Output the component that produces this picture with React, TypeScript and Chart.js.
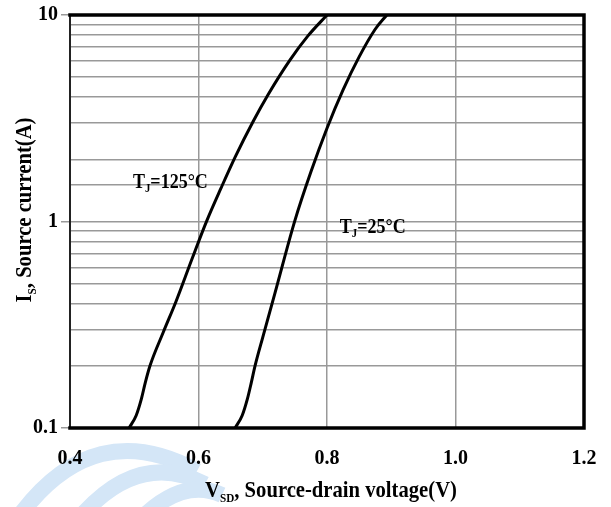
import React, { useEffect, useRef } from "react";
import { Chart, registerables } from "chart.js";

Chart.register(...registerables);

// Source-drain diode forward characteristics
const vsd125: number[] = [0.492, 0.503, 0.511, 0.517, 0.5245, 0.545, 0.565, 0.59, 0.613, 0.635, 0.657, 0.685, 0.708, 0.742, 0.77, 0.8];
const is125: number[] = [0.1, 0.115, 0.138, 0.165, 0.2, 0.29, 0.41, 0.66, 1.01, 1.45, 2.05, 3.05, 4.1, 6.03, 7.9, 10];

const vsd25: number[] = [0.657, 0.668, 0.676, 0.682, 0.688, 0.7, 0.719, 0.75, 0.775, 0.8, 0.825, 0.85, 0.875, 0.893];
const is25: number[] = [0.1, 0.115, 0.138, 0.165, 0.2, 0.275, 0.45, 1.01, 1.74, 2.83, 4.34, 6.27, 8.53, 10];

const xTickValues: number[] = [0.4, 0.6, 0.8, 1.0, 1.2];
const yTickLabels: number[] = [0.1, 1, 10];

// annotation anchors (data coords): [V, I]
const label125: number[] = [0.498, 1.46];
const label25: number[] = [0.82, 0.875];

const FONT = '"Liberation Serif", "DejaVu Serif", serif';

type Part = { t: string; sub?: boolean };

function drawRich(
  ctx: CanvasRenderingContext2D,
  parts: Part[],
  x: number,
  y: number,
  size: number,
  subSize: number,
  align: "left" | "center",
  sx: number
) {
  let total = 0;
  const widths: number[] = [];
  for (const p of parts) {
    ctx.font = `bold ${p.sub ? subSize : size}px ${FONT}`;
    const w = ctx.measureText(p.t).width;
    widths.push(w);
    total += w;
  }
  ctx.save();
  ctx.translate(x, y);
  ctx.scale(sx, 1);
  let cx = align === "center" ? -total / 2 : 0;
  ctx.textAlign = "left";
  ctx.textBaseline = "alphabetic";
  parts.forEach((p, i) => {
    ctx.font = `bold ${p.sub ? subSize : size}px ${FONT}`;
    ctx.fillText(p.t, cx, p.sub ? size * 0.2 : 0);
    cx += widths[i];
  });
  ctx.restore();
}

const isPow10 = (v: number) => Math.abs(Math.log10(v) - Math.round(Math.log10(v))) < 1e-6;

export default function App() {
  const ref = useRef<HTMLCanvasElement | null>(null);

  useEffect(() => {
    document.body.style.margin = "0";
    const canvas = ref.current;
    if (!canvas) return;

    const watermark = {
      id: "watermark",
      beforeDraw(chart: any) {
        const ctx = chart.ctx as CanvasRenderingContext2D;
        ctx.save();
        ctx.strokeStyle = "#d4e6f7";
        ctx.lineCap = "butt";
        ctx.lineWidth = 16;
        ctx.beginPath();
        ctx.moveTo(20, 515);
        ctx.quadraticCurveTo(95, 415, 197, 471);
        ctx.stroke();
        ctx.beginPath();
        ctx.moveTo(82, 515);
        ctx.quadraticCurveTo(140, 450, 205, 484);
        ctx.stroke();
        ctx.beginPath();
        ctx.moveTo(145, 515);
        ctx.quadraticCurveTo(185, 478, 222, 495);
        ctx.stroke();
        ctx.restore();
      },
    };

    const decorations = {
      id: "decorations",
      afterDatasetsDraw(chart: any) {
        const ctx = chart.ctx as CanvasRenderingContext2D;
        const a = chart.chartArea;
        ctx.save();
        ctx.lineCap = "square";
        ctx.strokeStyle = "#222";
        ctx.lineWidth = 2;
        ctx.beginPath();
        ctx.moveTo(a.left, a.top);
        ctx.lineTo(a.left, a.bottom);
        ctx.stroke();
        ctx.strokeStyle = "#000";
        ctx.lineWidth = 3.5;
        ctx.beginPath();
        ctx.moveTo(a.left, a.top);
        ctx.lineTo(a.right, a.top);
        ctx.lineTo(a.right, a.bottom);
        ctx.lineTo(a.left, a.bottom);
        ctx.stroke();
        ctx.restore();
      },
      afterDraw(chart: any) {
        const ctx = chart.ctx as CanvasRenderingContext2D;
        const xs = chart.scales.x;
        const ys = chart.scales.y;
        const a = chart.chartArea;
        ctx.save();
        ctx.fillStyle = "#000";
        drawRich(ctx, [{ t: "T" }, { t: "J", sub: true }, { t: "=125°C" }],
          xs.getPixelForValue(label125[0]), ys.getPixelForValue(label125[1]), 20, 12, "left", 0.9);
        drawRich(ctx, [{ t: "T" }, { t: "J", sub: true }, { t: "=25°C" }],
          xs.getPixelForValue(label25[0]), ys.getPixelForValue(label25[1]), 20, 12, "left", 0.9);
        drawRich(ctx, [{ t: "V" }, { t: "SD", sub: true }, { t: ", Source-drain voltage(V)" }],
          (a.left + a.right) / 2 + 4, 497, 24, 13, "center", 0.86);
        ctx.translate(31, 210);
        ctx.rotate(-Math.PI / 2);
        drawRich(ctx, [{ t: "I" }, { t: "S", sub: true }, { t: ", Source current(A)" }], 0, 0, 24, 13, "center", 0.86);
        ctx.restore();
      },
    };

    const chart = new Chart(canvas, {
      type: "line",
      data: {
        datasets: [
          {
            label: "TJ=125°C",
            data: vsd125.map((v, i) => ({ x: v, y: is125[i] })),
            borderColor: "#000",
            borderWidth: 3,
            pointRadius: 0,
            cubicInterpolationMode: "monotone",
            fill: false,
          },
          {
            label: "TJ=25°C",
            data: vsd25.map((v, i) => ({ x: v, y: is25[i] })),
            borderColor: "#000",
            borderWidth: 3,
            pointRadius: 0,
            cubicInterpolationMode: "monotone",
            fill: false,
          },
        ],
      },
      plugins: [watermark, decorations],
      options: {
        animation: false,
        responsive: false,
        devicePixelRatio: 1,
        layout: { padding: { top: 14, right: 27, left: 0, bottom: 0 } },
        plugins: {
          legend: { display: false },
          tooltip: { enabled: false },
          title: { display: false },
        },
        scales: {
          x: {
            type: "linear",
            min: 0.4,
            max: 1.2,
            afterFit: (s: any) => { s.height = 79; },
            afterBuildTicks: (s: any) => { s.ticks = xTickValues.map((v) => ({ value: v })); },
            border: { display: false },
            grid: { color: "#999", lineWidth: 1.5, drawTicks: true, tickLength: 19, tickColor: "rgba(0,0,0,0)" },
            ticks: {
              padding: 0,
              color: "#000",
              font: { family: FONT, size: 20, weight: "bold" },
              callback: (v: any) => Number(v).toFixed(1),
            },
          },
          y: {
            type: "logarithmic",
            min: 0.1,
            max: 10,
            afterFit: (s: any) => { s.width = 70; },
            border: { display: false },
            grid: {
              color: "#999",
              lineWidth: 1.5,
              tickLength: 9,
              tickColor: (c: any) => (c.tick && isPow10(c.tick.value) ? "#999" : "rgba(0,0,0,0)"),
            },
            ticks: {
              autoSkip: false,
              padding: 3,
              color: "#000",
              font: { family: FONT, size: 20, weight: "bold" },
              callback: (v: any) => {
                const n = Number(v);
                const hit = yTickLabels.find((t) => Math.abs(t - n) / t < 1e-6);
                return hit !== undefined ? String(hit) : "";
              },
            },
          },
        },
      },
    } as any);

    return () => chart.destroy();
  }, []);

  return (
    <div style={{ width: 611, height: 507 }}>
      <canvas ref={ref} width={611} height={507} style={{ display: "block" }} />
    </div>
  );
}
